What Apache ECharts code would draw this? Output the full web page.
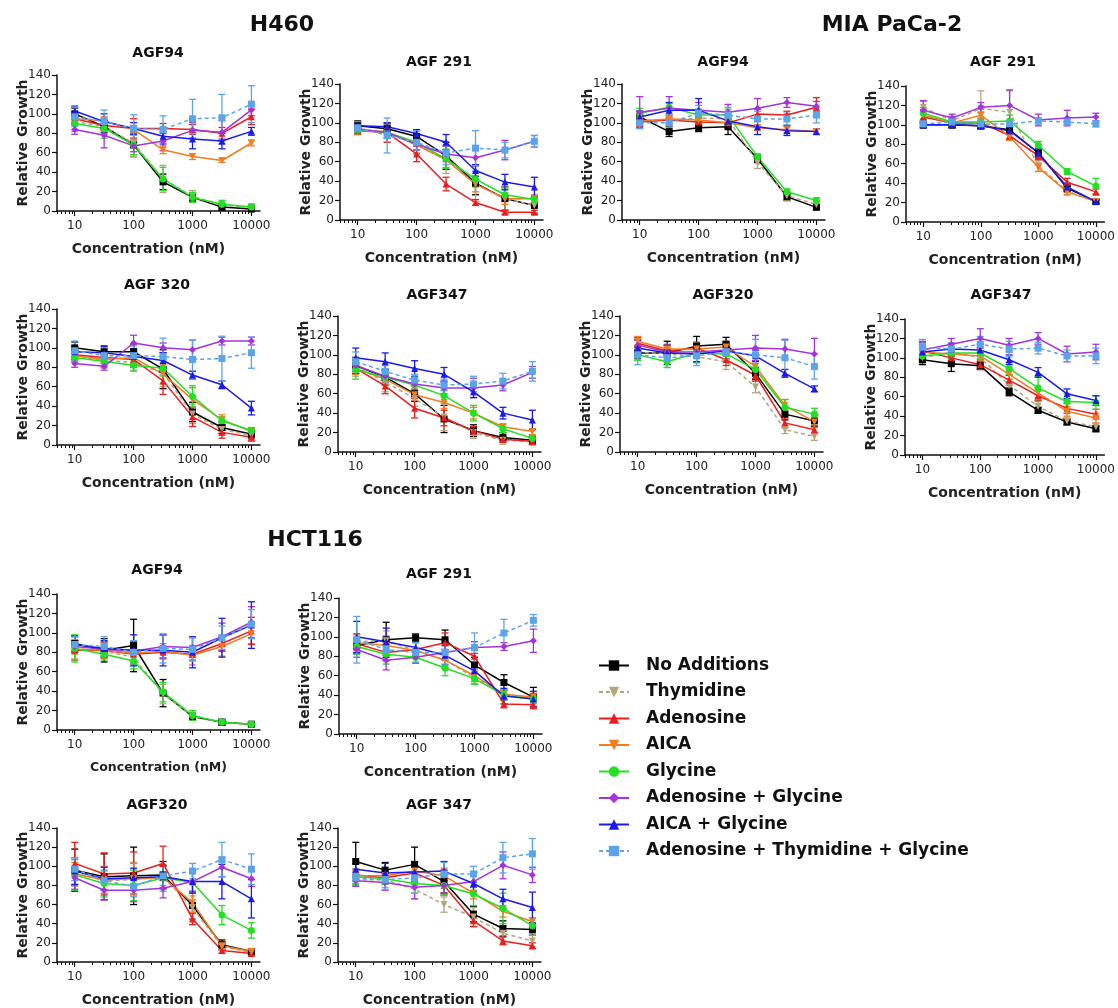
<!DOCTYPE html>
<html>
<head>
<meta charset="utf-8">
<title>Relative Growth</title>
<script src="https://cdn.jsdelivr.net/npm/echarts@6/dist/echarts.min.js"></script>
<style>
    html, body { margin: 0; padding: 0; background: #fff; }
    #chart { width: 1118px; height: 1008px; }
</style>
</head>
<body>
<div id="chart"></div>
<script>
// concentrations (nM), half-log steps
const conc = [10, 31.6, 100, 316, 1000, 3160, 10000]
const conditions = [
    'No Additions', 'Thymidine', 'Adenosine', 'AICA', 'Glycine',
    'Adenosine + Glycine', 'AICA + Glycine', 'Adenosine + Thymidine + Glycine'
]
const xLabelTicks = [10, 100, 1000, 10000]
const xMinorTicks = [5, 6, 7, 8, 9, 20, 30, 40, 50, 60, 70, 80, 90,
    200, 300, 400, 500, 600, 700, 800, 900, 2000, 3000, 4000, 5000, 6000, 7000, 8000, 9000]

// rows follow the order of `conditions`
const H460_AGF94 = [
    [100, 87, 68, 30, 14, 4, 2],
    [92, 87, 70, 33, 15, 6, 4],
    [95, 88, 85, 85, 84, 80, 97],
    [95, 93, 84, 63, 56, 52, 70],
    [90, 85, 68, 33, 14, 7, 4],
    [84, 78, 67, 72, 83, 81, 104],
    [103, 92, 85, 77, 74, 72, 82],
    [97, 92, 85, 84, 95, 96, 110]
]
const H460_AGF94_ERR = [
    [6, 6, 12, 8, 4, 3, 2],
    [8, 8, 14, 14, 6, 4, 3],
    [5, 5, 10, 5, 5, 6, 8],
    [4, 4, 4, 4, 3, 2, 3],
    [8, 10, 10, 12, 5, 4, 3],
    [5, 13, 6, 10, 8, 12, 6],
    [5, 8, 6, 8, 10, 8, 4],
    [10, 12, 14, 14, 20, 24, 19]
]

const H460_AGF291 = [
    [97, 94, 86, 66, 38, 22, 15],
    [93, 90, 78, 62, 37, 22, 15],
    [92, 90, 68, 37, 18, 8, 8],
    [92, 91, 77, 62, 37, 22, 22],
    [93, 90, 80, 63, 42, 26, 21],
    [94, 90, 78, 68, 64, 72, 81],
    [97, 96, 89, 80, 51, 39, 34],
    [95, 87, 80, 69, 74, 72, 81]
]
const H460_AGF291_ERR = [
    [5, 5, 6, 14, 12, 12, 8],
    [5, 10, 10, 14, 18, 12, 8],
    [4, 10, 8, 7, 3, 2, 2],
    [4, 6, 8, 8, 8, 6, 4],
    [4, 6, 8, 10, 8, 6, 4],
    [4, 6, 6, 8, 8, 10, 6],
    [4, 4, 4, 8, 6, 8, 10],
    [6, 18, 12, 12, 18, 8, 6]
]

const MIA_AGF94 = [
    [106, 91, 95, 96, 63, 24, 13],
    [103, 103, 105, 104, 59, 25, 16],
    [101, 103, 101, 100, 109, 108, 116],
    [102, 104, 103, 100, 95, 93, 91],
    [110, 116, 108, 108, 65, 29, 20],
    [111, 115, 113, 111, 115, 121, 117],
    [106, 113, 113, 102, 96, 92, 91],
    [100, 100, 110, 108, 104, 104, 108]
]
const MIA_AGF94_ERR = [
    [6, 5, 4, 8, 4, 4, 2],
    [6, 6, 6, 8, 6, 5, 3],
    [5, 4, 4, 6, 5, 4, 10],
    [4, 4, 3, 4, 3, 3, 3],
    [5, 4, 6, 6, 3, 3, 3],
    [16, 12, 8, 8, 10, 5, 5],
    [6, 8, 12, 6, 8, 5, 3],
    [6, 8, 8, 8, 8, 6, 8]
]

const MIA_AGF291 = [
    [100, 100, 99, 95, 71, 35, 21],
    [118, 104, 117, 113, 58, 32, 21],
    [108, 102, 102, 89, 68, 41, 31],
    [110, 102, 110, 88, 56, 31, 21],
    [112, 103, 103, 104, 79, 52, 37],
    [115, 107, 118, 120, 105, 107, 108],
    [100, 100, 99, 94, 71, 36, 21],
    [101, 103, 101, 101, 104, 103, 101]
]
const MIA_AGF291_ERR = [
    [3, 3, 3, 4, 4, 4, 2],
    [6, 5, 18, 22, 6, 4, 2],
    [6, 4, 4, 4, 4, 4, 3],
    [6, 4, 6, 4, 4, 3, 2],
    [6, 4, 5, 6, 4, 3, 8],
    [10, 4, 5, 16, 6, 8, 4],
    [3, 3, 3, 4, 5, 4, 2],
    [3, 3, 3, 3, 3, 3, 3]
]

const H460_AGF320 = [
    [100, 96, 96, 78, 34, 18, 11],
    [92, 87, 85, 74, 32, 16, 10],
    [93, 90, 88, 66, 29, 13, 8],
    [92, 88, 90, 73, 47, 26, 14],
    [90, 86, 82, 79, 50, 25, 15],
    [84, 81, 105, 100, 98, 107, 107],
    [96, 95, 91, 87, 72, 62, 38],
    [97, 92, 92, 91, 88, 89, 95]
]
const H460_AGF320_ERR = [
    [6, 6, 8, 20, 10, 6, 4],
    [6, 8, 8, 14, 10, 6, 4],
    [5, 6, 8, 14, 10, 6, 4],
    [5, 6, 6, 10, 12, 5, 3],
    [5, 6, 6, 8, 11, 4, 3],
    [4, 4, 8, 5, 10, 4, 4],
    [5, 6, 8, 8, 4, 4, 7],
    [10, 8, 10, 19, 20, 23, 16]
]

const H460_AGF347 = [
    [89, 77, 60, 34, 22, 15, 12],
    [88, 72, 55, 36, 20, 12, 11],
    [86, 68, 45, 35, 22, 13, 11],
    [86, 75, 59, 51, 40, 26, 21],
    [85, 77, 69, 58, 40, 24, 14],
    [89, 78, 70, 66, 66, 69, 82],
    [97, 93, 86, 80, 62, 40, 33],
    [93, 83, 74, 69, 70, 73, 83]
]
const H460_AGF347_ERR = [
    [8, 8, 8, 14, 6, 5, 4],
    [10, 10, 8, 14, 6, 4, 4],
    [6, 8, 10, 8, 4, 3, 3],
    [6, 6, 6, 6, 6, 3, 3],
    [10, 6, 6, 6, 8, 4, 3],
    [6, 6, 6, 6, 10, 6, 6],
    [10, 9, 8, 7, 6, 6, 10],
    [10, 6, 6, 6, 8, 8, 10]
]

const MIA_AGF320 = [
    [102, 102, 109, 111, 81, 39, 32],
    [103, 101, 98, 93, 67, 23, 16],
    [112, 104, 107, 95, 79, 30, 23],
    [114, 106, 106, 108, 88, 48, 31],
    [100, 93, 102, 101, 85, 46, 39],
    [110, 103, 103, 105, 107, 106, 101],
    [107, 102, 101, 104, 99, 81, 65],
    [100, 97, 99, 103, 100, 97, 88]
]
const MIA_AGF320_ERR = [
    [6, 12, 10, 7, 6, 6, 6],
    [6, 6, 6, 8, 6, 4, 4],
    [6, 6, 6, 6, 6, 5, 4],
    [5, 5, 6, 6, 6, 6, 6],
    [6, 6, 10, 6, 6, 8, 6],
    [6, 6, 6, 6, 13, 10, 16],
    [8, 8, 8, 8, 6, 4, 3],
    [10, 10, 10, 10, 16, 18, 13]
]

const MIA_AGF347 = [
    [98, 94, 92, 65, 46, 34, 27],
    [100, 106, 100, 72, 50, 35, 29],
    [107, 100, 93, 77, 61, 48, 42],
    [106, 104, 102, 83, 64, 45, 38],
    [102, 105, 105, 89, 69, 55, 54],
    [108, 114, 120, 113, 120, 104, 106],
    [106, 109, 108, 98, 85, 63, 56],
    [111, 109, 114, 109, 110, 102, 102]
]
const MIA_AGF347_ERR = [
    [5, 8, 4, 4, 3, 3, 3],
    [5, 6, 6, 6, 5, 4, 3],
    [10, 5, 5, 5, 5, 5, 5],
    [5, 5, 5, 5, 5, 5, 5],
    [5, 6, 6, 6, 12, 8, 7],
    [8, 6, 10, 7, 6, 8, 8],
    [8, 6, 6, 5, 5, 5, 5],
    [8, 6, 8, 8, 6, 6, 8]
]

const HCT_AGF94 = [
    [89, 82, 87, 38, 14, 8, 6],
    [84, 81, 75, 37, 14, 8, 6],
    [82, 82, 78, 80, 78, 89, 102],
    [83, 82, 79, 81, 77, 86, 99],
    [84, 78, 71, 39, 15, 8, 6],
    [86, 83, 81, 86, 85, 96, 111],
    [88, 84, 82, 82, 80, 95, 108],
    [88, 86, 80, 84, 83, 95, 109]
]
const HCT_AGF94_ERR = [
    [8, 12, 27, 14, 4, 3, 2],
    [6, 6, 8, 10, 4, 2, 2],
    [10, 8, 10, 6, 6, 8, 14],
    [10, 8, 8, 8, 10, 10, 10],
    [14, 6, 8, 10, 5, 3, 2],
    [6, 8, 10, 12, 10, 14, 16],
    [8, 8, 16, 16, 16, 20, 24],
    [8, 10, 12, 15, 12, 12, 15]
]

const HCT_AGF291 = [
    [91, 97, 99, 97, 71, 53, 38],
    [95, 96, 86, 76, 58, 41, 36],
    [93, 84, 87, 94, 80, 31, 30],
    [94, 91, 86, 76, 60, 41, 38],
    [90, 82, 79, 68, 57, 40, 36],
    [87, 76, 79, 84, 89, 90, 96],
    [100, 95, 89, 81, 65, 39, 36],
    [97, 87, 84, 84, 89, 104, 117]
]
const HCT_AGF291_ERR = [
    [8, 18, 4, 10, 8, 8, 10],
    [8, 10, 8, 8, 6, 5, 5],
    [10, 8, 8, 10, 8, 4, 4],
    [8, 10, 8, 8, 6, 4, 4],
    [8, 10, 6, 8, 6, 5, 4],
    [8, 10, 6, 8, 6, 4, 12],
    [16, 14, 8, 10, 8, 8, 8],
    [24, 12, 10, 12, 15, 14, 6]
]

const HCT_AGF320 = [
    [96, 89, 90, 91, 59, 18, 11],
    [93, 85, 86, 89, 57, 16, 10],
    [103, 92, 93, 103, 45, 12, 9],
    [92, 86, 87, 88, 62, 17, 11],
    [91, 82, 80, 88, 83, 49, 33],
    [88, 75, 75, 77, 84, 99, 87],
    [95, 87, 88, 89, 84, 84, 66],
    [97, 85, 79, 90, 95, 107, 97]
]
const HCT_AGF320_ERR = [
    [22, 24, 30, 14, 14, 5, 3],
    [14, 14, 18, 12, 12, 4, 3],
    [22, 22, 22, 18, 6, 3, 2],
    [12, 14, 16, 12, 10, 4, 3],
    [16, 14, 16, 14, 10, 10, 8],
    [12, 10, 12, 10, 10, 10, 8],
    [14, 12, 10, 12, 12, 18, 20],
    [12, 10, 10, 10, 8, 18, 16]
]

const HCT_AGF347 = [
    [105, 96, 102, 84, 50, 35, 34],
    [86, 86, 76, 60, 47, 30, 22],
    [91, 88, 93, 80, 43, 22, 17],
    [90, 90, 95, 90, 72, 53, 42],
    [89, 87, 82, 80, 71, 56, 38],
    [85, 83, 78, 80, 84, 101, 91],
    [97, 93, 94, 95, 82, 66, 57],
    [88, 86, 88, 92, 92, 109, 113]
]
const HCT_AGF347_ERR = [
    [20, 8, 18, 12, 8, 8, 6],
    [6, 8, 10, 8, 10, 8, 6],
    [6, 6, 6, 10, 6, 4, 3],
    [6, 6, 6, 8, 6, 6, 4],
    [8, 6, 10, 10, 12, 16, 8],
    [6, 8, 12, 8, 6, 14, 8],
    [6, 10, 10, 10, 8, 10, 16],
    [6, 10, 16, 12, 8, 16, 16]
]

const FONT = '"DejaVu Sans", "Liberation Sans", Arial, sans-serif'
const colors = ['#000000', '#b4a67c', '#ee1d1d', '#f47c20', '#22e022', '#a334dc', '#1a1aee', '#5ca4ea']
const symbols = ['rect', 'triangle', 'triangle', 'triangle', 'circle', 'diamond', 'triangle', 'rect']
const symbolRotations = [0, 180, 0, 180, 0, 0, 0, 0]
const dashed = [false, true, false, false, false, false, false, true]

const panels = [
    { title: 'AGF94', mean: H460_AGF94, err: H460_AGF94_ERR, left: 57, top: 75, tx: 158, ty: 53, nameShift: 20 },
    { title: 'AGF 291', mean: H460_AGF291, err: H460_AGF291_ERR, left: 340, top: 84, tx: 439, ty: 62 },
    { title: 'AGF94', mean: MIA_AGF94, err: MIA_AGF94_ERR, left: 622, top: 84, tx: 723, ty: 62 },
    { title: 'AGF 291', mean: MIA_AGF291, err: MIA_AGF291_ERR, left: 906, top: 86, tx: 1003, ty: 62 },
    { title: 'AGF 320', mean: H460_AGF320, err: H460_AGF320_ERR, left: 57, top: 309, tx: 157, ty: 285 },
    { title: 'AGF347', mean: H460_AGF347, err: H460_AGF347_ERR, left: 338, top: 316, tx: 437, ty: 295 },
    { title: 'AGF320', mean: MIA_AGF320, err: MIA_AGF320_ERR, left: 620, top: 316, tx: 723, ty: 295 },
    { title: 'AGF347', mean: MIA_AGF347, err: MIA_AGF347_ERR, left: 905, top: 319, tx: 1001, ty: 295 },
    { title: 'AGF94', mean: HCT_AGF94, err: HCT_AGF94_ERR, left: 57, top: 594, tx: 157, ty: 570, small: true },
    { title: 'AGF 291', mean: HCT_AGF291, err: HCT_AGF291_ERR, left: 339, top: 598, tx: 439, ty: 574 },
    { title: 'AGF320', mean: HCT_AGF320, err: HCT_AGF320_ERR, left: 57, top: 828, tx: 157, ty: 805 },
    { title: 'AGF 347', mean: HCT_AGF347, err: HCT_AGF347_ERR, left: 338, top: 828, tx: 439, ty: 805 }
]

const chart = echarts.init(document.getElementById('chart'))

function renderErrorBar(params, api) {
    const x = api.value(0)
    const y = api.value(1)
    const e = api.value(2)
    const hi = api.coord([x, y + e])
    const lo = api.coord([x, Math.max(0, y - e)])
    const cap = 3.5
    const style = { stroke: api.visual('color'), lineWidth: 1.3 }
    return {
        type: 'group',
        children: [
            { type: 'line', shape: { x1: hi[0], y1: hi[1], x2: lo[0], y2: lo[1] }, style },
            { type: 'line', shape: { x1: hi[0] - cap, y1: hi[1], x2: hi[0] + cap, y2: hi[1] }, style },
            { type: 'line', shape: { x1: lo[0] - cap, y1: lo[1], x2: lo[0] + cap, y2: lo[1] }, style }
        ]
    }
}

const grids = []
const xAxes = []
const yAxes = []
const series = []
const graphics = [
    { type: 'text', x: 282, y: 25, style: { text: 'H460', font: `bold 22px ${FONT}`, fill: '#111', align: 'center', verticalAlign: 'middle' } },
    { type: 'text', x: 892, y: 25, style: { text: 'MIA PaCa-2', font: `bold 22px ${FONT}`, fill: '#111', align: 'center', verticalAlign: 'middle' } },
    { type: 'text', x: 315, y: 540, style: { text: 'HCT116', font: `bold 22px ${FONT}`, fill: '#111', align: 'center', verticalAlign: 'middle' } }
]

panels.forEach((p, g) => {
    grids.push({ left: p.left, top: p.top, width: 203, height: 136 })

    graphics.push({
        type: 'text', x: p.tx, y: p.ty,
        style: { text: p.title, font: `bold 14px ${FONT}`, fill: '#111', align: 'center', verticalAlign: 'middle' }
    })

    // main x axis: line, decade ticks, labels
    xAxes.push({
        type: 'log',
        gridIndex: g,
        min: 5,
        max: 14000,
        name: 'Concentration (nM)',
        nameLocation: 'middle',
        nameGap: 31,
        nameMoveOverlap: false,
        nameTextStyle: {
            fontFamily: FONT,
            fontWeight: 'bold',
            fontSize: p.small ? 12.5 : 14,
            color: '#222',
            padding: p.nameShift ? [0, p.nameShift, 0, 0] : 0
        },
        axisLine: { show: true, lineStyle: { color: '#111', width: 1.5 } },
        axisTick: { show: true, length: 5, customValues: xLabelTicks, lineStyle: { color: '#111', width: 1.2 } },
        minorTick: { show: false },
        axisLabel: {
            customValues: xLabelTicks,
            margin: 9,
            fontFamily: FONT,
            fontSize: 12,
            color: '#222',
            formatter: (v) => String(Math.round(v))
        },
        splitLine: { show: false }
    })
    // minor log ticks
    xAxes.push({
        type: 'log',
        gridIndex: g,
        min: 5,
        max: 14000,
        position: 'bottom',
        axisLine: { show: false },
        axisTick: { show: true, length: 3, customValues: xMinorTicks, lineStyle: { color: '#111', width: 1 } },
        axisLabel: { show: false },
        splitLine: { show: false }
    })

    yAxes.push({
        type: 'value',
        gridIndex: g,
        min: 0,
        max: 140,
        interval: 20,
        name: 'Relative Growth',
        nameLocation: 'middle',
        nameGap: 27,
        nameMoveOverlap: false,
        nameTextStyle: { fontFamily: FONT, fontWeight: 'bold', fontSize: 14, color: '#222' },
        axisLine: { show: true, lineStyle: { color: '#111', width: 1.5 } },
        axisTick: { show: true, length: 5, lineStyle: { color: '#111', width: 1.2 } },
        axisLabel: { margin: 6, fontFamily: FONT, fontSize: 12, color: '#222' },
        splitLine: { show: false }
    })

    const xIndex = g * 2
    conditions.forEach((name, k) => {
        series.push({
            name: 'err ' + name,
            type: 'custom',
            xAxisIndex: xIndex,
            yAxisIndex: g,
            renderItem: renderErrorBar,
            itemStyle: { color: colors[k] },
            encode: { x: 0, y: 1 },
            data: conc.map((c, i) => [c, p.mean[k][i], p.err[k][i]]),
            z: 1,
            silent: true
        })
    })
    conditions.forEach((name, k) => {
        series.push({
            name,
            type: 'line',
            xAxisIndex: xIndex,
            yAxisIndex: g,
            data: conc.map((c, i) => [c, p.mean[k][i]]),
            symbol: symbols[k],
            symbolRotate: symbolRotations[k],
            symbolSize: 7,
            color: colors[k],
            lineStyle: { width: 1.5, type: dashed[k] ? [4, 3] : 'solid', color: colors[k] },
            itemStyle: { color: colors[k] },
            z: 2
        })
    })
})

chart.setOption({
    animation: false,
    backgroundColor: '#fff',
    textStyle: { fontFamily: FONT },
    grid: grids,
    xAxis: xAxes,
    yAxis: yAxes,
    legend: {
        orient: 'vertical',
        left: 593,
        top: 652,
        itemWidth: 30,
        itemHeight: 13,
        itemGap: 9.5,
        data: conditions,
        textStyle: { fontFamily: FONT, fontWeight: 'bold', fontSize: 17, color: '#111', padding: [0, 0, 0, 12] }
    },
    graphic: graphics,
    series
})

window.addEventListener('resize', () => chart.resize())
</script>
</body>
</html>
